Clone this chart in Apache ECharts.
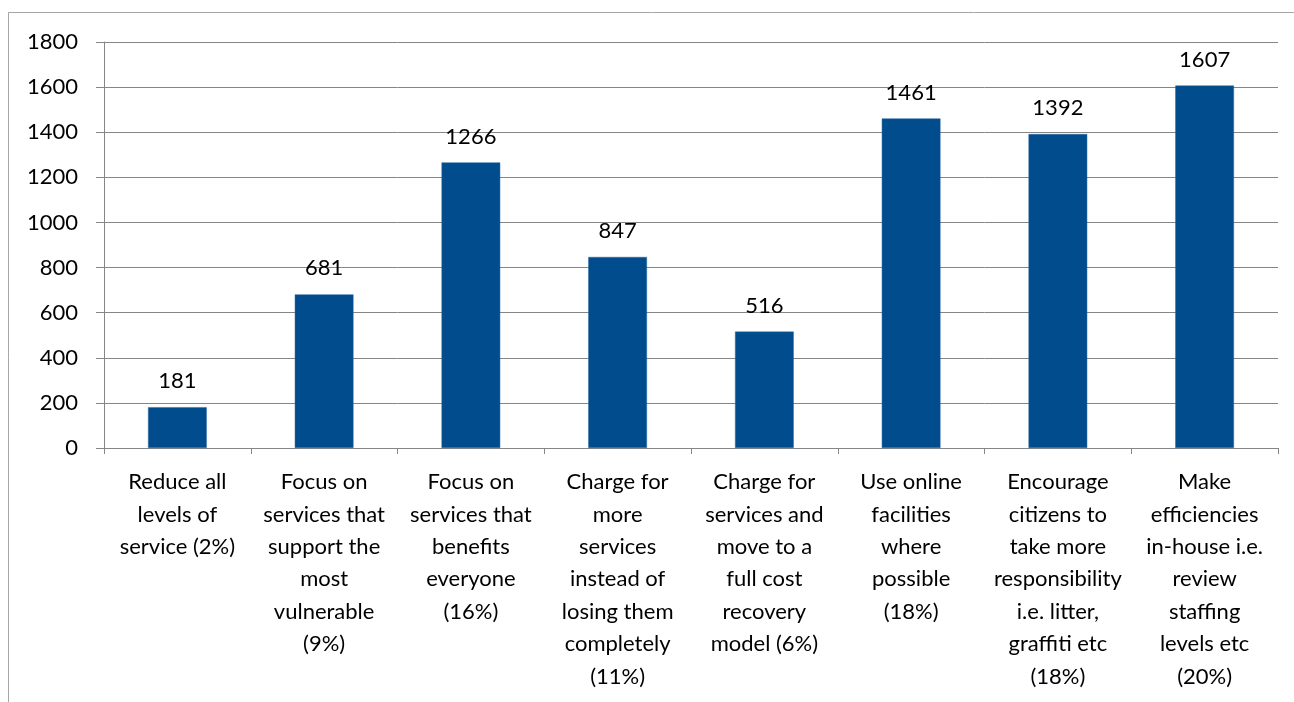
<!DOCTYPE html>
<html>
<head>
<meta charset="utf-8">
<script src="https://cdn.jsdelivr.net/npm/echarts@6/dist/echarts.min.js"></script>
<style>
  html, body { margin: 0; padding: 0; background: #fff; }
  #chart { width: 1294px; height: 702px; }
</style>
</head>
<body>
<div id="chart"></div>
<script>
// category labels, wrapped the same way as the original
const categories = [
  "Reduce all\nlevels of\nservice (2%)",
  "Focus on\nservices that\nsupport the\nmost\nvulnerable\n(9%)",
  "Focus on\nservices that\nbenefits\neveryone\n(16%)",
  "Charge for\nmore\nservices\ninstead of\nlosing them\ncompletely\n(11%)",
  "Charge for\nservices and\nmove to a\nfull cost\nrecovery\nmodel (6%)",
  "Use online\nfacilities\nwhere\npossible\n(18%)",
  "Encourage\ncitizens to\ntake more\nresponsibility\ni.e. litter,\ngraffiti etc\n(18%)",
  "Make\nefficiencies\nin-house i.e.\nreview\nstaffing\nlevels etc\n(20%)"
];
const votes = [181, 681, 1266, 847, 516, 1461, 1392, 1607];
const yMin = 0;
const yMax = 1800;
const yStep = 200;

const font = "Lato, 'Noto Sans', sans-serif";
const chart = echarts.init(document.getElementById("chart"));

const option = {
  animation: false,
  textStyle: { fontFamily: font },
  graphic: [
    {
      type: "rect",
      shape: { x: 8.5, y: 12.5, width: 1300, height: 720 },
      style: { fill: "none", stroke: "#a6a6a6", lineWidth: 1 },
      silent: true
    }
  ],
  grid: { left: 104, right: 16, top: 42, bottom: 254 },
  xAxis: {
    type: "category",
    data: categories,
    axisLine: { lineStyle: { color: "#868686", width: 1 } },
    axisTick: { show: true, length: 6, alignWithLabel: false, lineStyle: { color: "#868686" } },
    axisLabel: {
      interval: 0,
      color: "#000",
      fontSize: 22,
      lineHeight: 32.4,
      margin: 18,
      fontFamily: font
    }
  },
  yAxis: {
    type: "value",
    min: yMin,
    max: yMax,
    interval: yStep,
    axisLine: { show: true, lineStyle: { color: "#868686", width: 1 } },
    axisTick: { show: true, length: 8, lineStyle: { color: "#868686" } },
    splitLine: { show: true, lineStyle: { color: "#868686", width: 1 } },
    axisLabel: {
      color: "#000",
      fontSize: 22,
      margin: 26,
      fontFamily: font,
      formatter: (v) => String(v)
    }
  },
  series: [
    {
      type: "bar",
      data: votes,
      barWidth: "40%",
      itemStyle: { color: "#004c8c", borderColor: "#2a68a4", borderWidth: 0.5 },
      label: {
        show: true,
        position: "top",
        distance: 15,
        color: "#000",
        fontSize: 22,
        fontFamily: font
      }
    }
  ]
};

chart.setOption(option);
</script>
</body>
</html>
